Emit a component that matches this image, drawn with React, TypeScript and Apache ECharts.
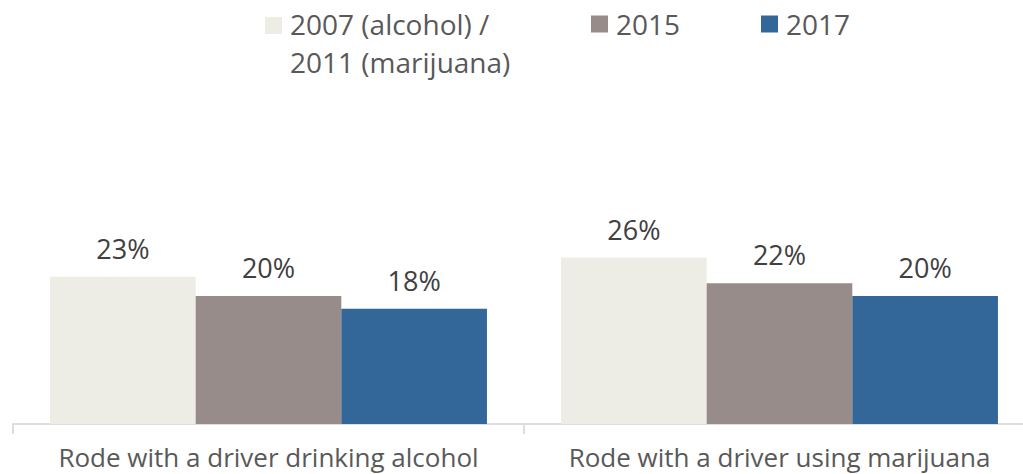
import React, { useEffect, useRef } from "react";
import * as echarts from "echarts";

const categories = ["Rode with a driver drinking alcohol", "Rode with a driver using marijuana"];
const seriesNames = ["2007 (alcohol) /\n2011 (marijuana)", "2015", "2017"];
const baseline = [23, 26];
const y2015 = [20, 22];
const y2017 = [18, 20];
const colors = ["#EDEDE6", "#978C8A", "#336699"];

export default function App() {
  const ref = useRef<HTMLDivElement>(null);
  useEffect(() => {
    document.body.style.margin = "0";
    const chart = echarts.init(ref.current!, undefined, { renderer: "svg" });
    const font = "'Open Sans', sans-serif";
    const values = [baseline, y2015, y2017];
    const legendLefts = [265, 591, 761];
    chart.setOption({
      animation: false,
      textStyle: { fontFamily: font },
      legend: seriesNames.map((n, i) => ({
        data: [n],
        left: legendLefts[i],
        top: 5,
        padding: 0,
        icon: i === 0 ? "path://M0,12H17V29H0Z M0,0 M17,76" : "rect",
        itemWidth: 17,
        itemHeight: i === 0 ? 76 : 17,
        itemGap: 0,
        textStyle: { fontSize: 28, color: "#595959", fontFamily: font, lineHeight: 38, padding: [0, 0, 0, 3] },
        selectedMode: false,
      })),
      grid: { left: 13, right: 0, top: 168, bottom: 50 },
      xAxis: [
        {
          type: "category",
          data: categories,
          axisLine: { lineStyle: { color: "#DDDDDD", width: 2 } },
          axisTick: { show: true, length: 10, lineStyle: { color: "#DDDDDD", width: 2 } },
          axisLabel: { interval: 0, fontSize: 26, color: "#595959", margin: 20, fontFamily: font },
        },
        {
          type: "category",
          data: categories,
          position: "bottom",
          axisLine: { show: false },
          axisTick: { show: true, inside: true, alignWithLabel: true, length: 8, lineStyle: { color: "#DDDDDD", width: 2 } },
          axisLabel: { show: false },
        },
      ],
      yAxis: { type: "value", min: 0, max: 40, show: false, splitLine: { show: false } },
      series: values.map((v, i) => ({
        name: seriesNames[i],
        type: "bar",
        data: v,
        barGap: "0%",
        barCategoryGap: "14.5%",
        itemStyle: { color: colors[i] },
        label: {
          show: true,
          position: "top",
          distance: 15,
          formatter: "{c}%",
          fontSize: 27,
          color: "#404040",
          fontFamily: font,
        },
      })),
    });
    return () => chart.dispose();
  }, []);
  return (
    <div style={{ width: 1023, height: 474, overflow: "hidden", position: "relative" }}>
      <div ref={ref} style={{ width: 1035, height: 474 }} />
    </div>
  );
}
